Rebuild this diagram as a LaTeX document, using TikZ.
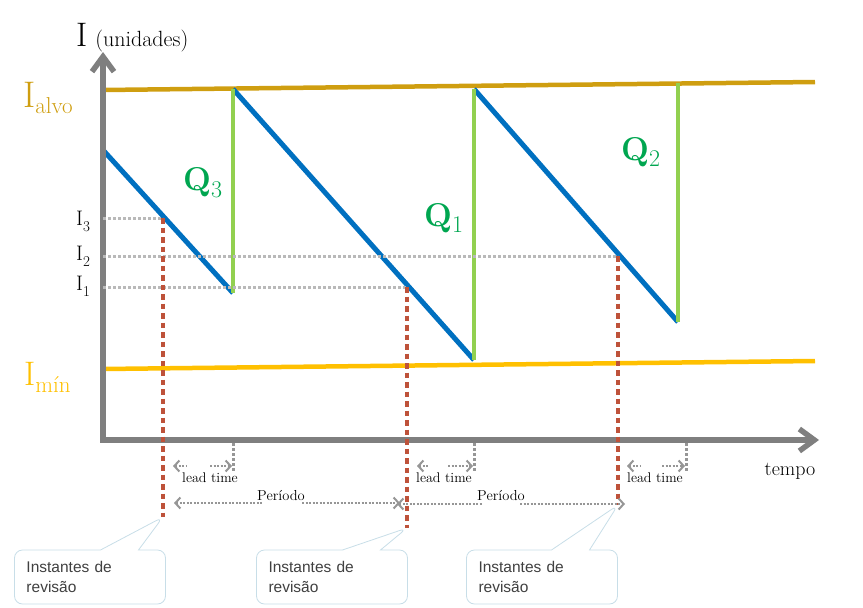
\documentclass[tikz,border=0pt]{standalone}
\usepackage{fontspec}
\usetikzlibrary{arrows.meta,shapes.callouts}
\newfontfamily\calfont{Liberation Sans}
\definecolor{axisgray}{RGB}{127,127,127}
\definecolor{alvocol}{RGB}{207,158,16}
\definecolor{imincol}{RGB}{255,192,0}
\definecolor{invblue}{RGB}{0,112,192}
\definecolor{qgreen}{RGB}{146,208,80}
\definecolor{qtext}{RGB}{0,166,80}
\definecolor{revred}{RGB}{190,82,58}
\definecolor{dotgray}{RGB}{185,185,185}
\definecolor{ltgray}{RGB}{150,150,150}
\definecolor{callborder}{RGB}{200,222,232}
\definecolor{calltext}{RGB}{64,64,64}
\tikzset{
  bigtip/.tip={Straight Barb[length=15pt,width=22pt]},
  smalltip/.tip={Straight Barb[length=5pt,width=11pt]},
  axisline/.style={draw=axisgray,line width=5.5pt,line join=miter},
  alvoline/.style={draw=alvocol,line width=4.5pt},
  iminline/.style={draw=imincol,line width=4.5pt},
  blueline/.style={draw=invblue,line width=5pt},
  greenline/.style={draw=qgreen,line width=4.5pt},
  guide/.style={draw=dotgray,line width=3pt,dash pattern=on 3pt off 2pt},
  revline/.style={draw=revred,line width=4.5pt,dash pattern=on 5.5pt off 4pt},
  ltmark/.style={draw=ltgray,line width=3pt,dash pattern=on 3pt off 2pt},
  spanline/.style={draw=ltgray,line width=2pt,dash pattern=on 2pt off 1.5pt},
  lbl/.style={inner sep=0pt},
  smalltxt/.style={inner sep=0pt,font=\fontsize{14}{14}\selectfont},
  revcallout/.style={rectangle callout,rounded corners=8pt,draw=callborder,
    line width=0.8pt,fill=white,minimum width=151pt,minimum height=54pt,
    inner xsep=12pt,inner ysep=4pt,text width=127pt,align=left,
    font=\calfont\fontsize{15.5}{20.5}\selectfont,text=calltext,
    callout pointer width=38pt},
}
\begin{document}
\begin{tikzpicture}[x=1pt,y=-1pt]
\useasboundingbox (0,0) rectangle (863,608);
% key points
\coordinate (ytip) at (103,52);
\coordinate (orig) at (103,440);
\coordinate (xtip) at (819,440);
\coordinate (alvoA) at (103,90);
\coordinate (alvoB) at (815,82);
\coordinate (iminA) at (103,369);
\coordinate (iminB) at (815,361);
\coordinate (b1s) at (103,150);
\coordinate (b1e) at (233,293);
\coordinate (g1t) at (233,89);
\coordinate (b2e) at (474,360);
\coordinate (g2t) at (474,89);
\coordinate (b3e) at (678,322);
\coordinate (g3t) at (678,83);
% guides
\coordinate (i3a) at (103,218);
\coordinate (i3b) at (163,218);
\coordinate (i2a) at (103,256);
\coordinate (i2b) at (618,256);
\coordinate (i1a) at (103,287);
\coordinate (i1b) at (407,287);
% review lines
\coordinate (r1bot) at (163,517);
\coordinate (r2bot) at (407,528);
\coordinate (r3bot) at (618,505);
% lead time ends
\coordinate (m1t) at (233,443);
\coordinate (m1b) at (233,471);
\coordinate (m2t) at (474,443);
\coordinate (m2b) at (474,471);
\coordinate (m3t) at (686,443);
\coordinate (m3b) at (686,472);

% level lines
\draw[alvoline] (alvoA) -- (alvoB);
\draw[iminline] (iminA) -- (iminB);
% inventory
\draw[blueline] (b1s) -- (b1e);
\draw[blueline] (g1t) -- (b2e);
\draw[blueline] (g2t) -- (b3e);
\draw[greenline] (b1e) -- (g1t);
\draw[greenline] (b2e) -- (g2t);
\draw[greenline] (b3e) -- (g3t);
% axes
\draw[axisline,{bigtip}-{bigtip}] (ytip) -- (orig) -- (xtip);
% guides
\draw[guide] (i3a) -- (i3b);
\draw[guide] (i2a) -- (i2b);
\draw[guide] (i1a) -- (i1b);
% review instants
\draw[revline] (i3b) -- (r1bot);
\draw[revline] (i1b) -- (r2bot);
\draw[revline] (i2b) -- (r3bot);
% lead time markers
\draw[ltmark] (m1t) -- (m1b);
\draw[ltmark] (m2t) -- (m2b);
\draw[ltmark] (m3t) -- (m3b);
% lead time arrows
\coordinate (l1a) at (173,466); \coordinate (l1b) at (187,466);
\coordinate (l1c) at (210,466); \coordinate (l1d) at (232,466);
\coordinate (l2a) at (417,466); \coordinate (l2b) at (429,466);
\coordinate (l2c) at (448,466); \coordinate (l2d) at (473,466);
\coordinate (l3a) at (627,466); \coordinate (l3b) at (640,466);
\coordinate (l3c) at (662,466); \coordinate (l3d) at (685,466);
\draw[spanline,{smalltip}-] (l1a) -- (l1b);
\draw[spanline,-{smalltip}] (l1c) -- (l1d);
\draw[spanline,{smalltip}-] (l2a) -- (l2b);
\draw[spanline,-{smalltip}] (l2c) -- (l2d);
\draw[spanline,{smalltip}-] (l3a) -- (l3b);
\draw[spanline,-{smalltip}] (l3c) -- (l3d);
% period arrows
\coordinate (p1a) at (174,503); \coordinate (p1b) at (262,503);
\coordinate (p1c) at (302,503); \coordinate (p1d) at (400,503);
\coordinate (p2a) at (397,504); \coordinate (p2b) at (482,504);
\coordinate (p2c) at (520,504); \coordinate (p2d) at (625,504);
\draw[spanline,{smalltip}-] (p1a) -- (p1b);
\draw[spanline,-{smalltip}] (p1c) -- (p1d);
\draw[spanline,{smalltip}-] (p2a) -- (p2b);
\draw[spanline,-{smalltip}] (p2c) -- (p2d);

% labels
\node[lbl,anchor=base west] (ylab) at (76,46)
  {\fontsize{34}{34}\selectfont I\hspace{8pt}\fontsize{22}{22}\selectfont(unidades)};
\node[lbl,anchor=base west,text=alvocol] (lalvo) at (23,107)
  {\fontsize{37}{37}\selectfont I\raisebox{-6pt}{\fontsize{23}{23}\selectfont alvo}};
\node[lbl,anchor=base west,text=imincol] (lmin) at (24,385)
  {\fontsize{34}{34}\selectfont I\raisebox{-7pt}{\fontsize{23}{23}\selectfont mín}};
\node[lbl,anchor=base west] (li3) at (76,225)
  {\fontsize{21}{21}\selectfont I\raisebox{-6pt}{\fontsize{15}{15}\selectfont 3}};
\node[lbl,anchor=base west] (li2) at (76,260)
  {\fontsize{21}{21}\selectfont I\raisebox{-6pt}{\fontsize{15}{15}\selectfont 2}};
\node[lbl,anchor=base west] (li1) at (76,290)
  {\fontsize{21}{21}\selectfont I\raisebox{-6pt}{\fontsize{15}{15}\selectfont 1}};
\node[lbl,anchor=base west,text=qtext] (q3) at (183,190)
  {\fontsize{33}{33}\selectfont\bfseries Q\raisebox{-7pt}{\fontsize{24}{24}\selectfont\mdseries 3}};
\node[lbl,anchor=base west,text=qtext] (q1) at (424,226)
  {\fontsize{33}{33}\selectfont\bfseries Q\raisebox{-6pt}{\fontsize{24}{24}\selectfont\mdseries 1}};
\node[lbl,anchor=base west,text=qtext] (q2) at (621,160)
  {\fontsize{33}{33}\selectfont\bfseries Q\raisebox{-6pt}{\fontsize{24}{24}\selectfont\mdseries 2}};
\node[smalltxt] (lt1) at (210,478) {lead time};
\node[smalltxt] (lt2) at (444,478) {lead time};
\node[smalltxt] (lt3) at (655,478) {lead time};
\node[lbl,font=\fontsize{14.5}{14.5}\selectfont] (per1) at (281,496) {Período};
\node[lbl,font=\fontsize{14.5}{14.5}\selectfont] (per2) at (501,496) {Período};
\node[lbl,font=\fontsize{20}{20}\selectfont] (tempo) at (790,471) {tempo};

% callouts
\node[revcallout,callout absolute pointer=(r1bot)] (c1) at (90,577) {Instantes de\\revisão};
\node[revcallout,callout absolute pointer=(r2bot)] (c2) at (332,577) {Instantes de\\revisão};
\node[revcallout,callout absolute pointer=(r3bot)] (c3) at (542,577) {Instantes de\\revisão};
\end{tikzpicture}
\end{document}
